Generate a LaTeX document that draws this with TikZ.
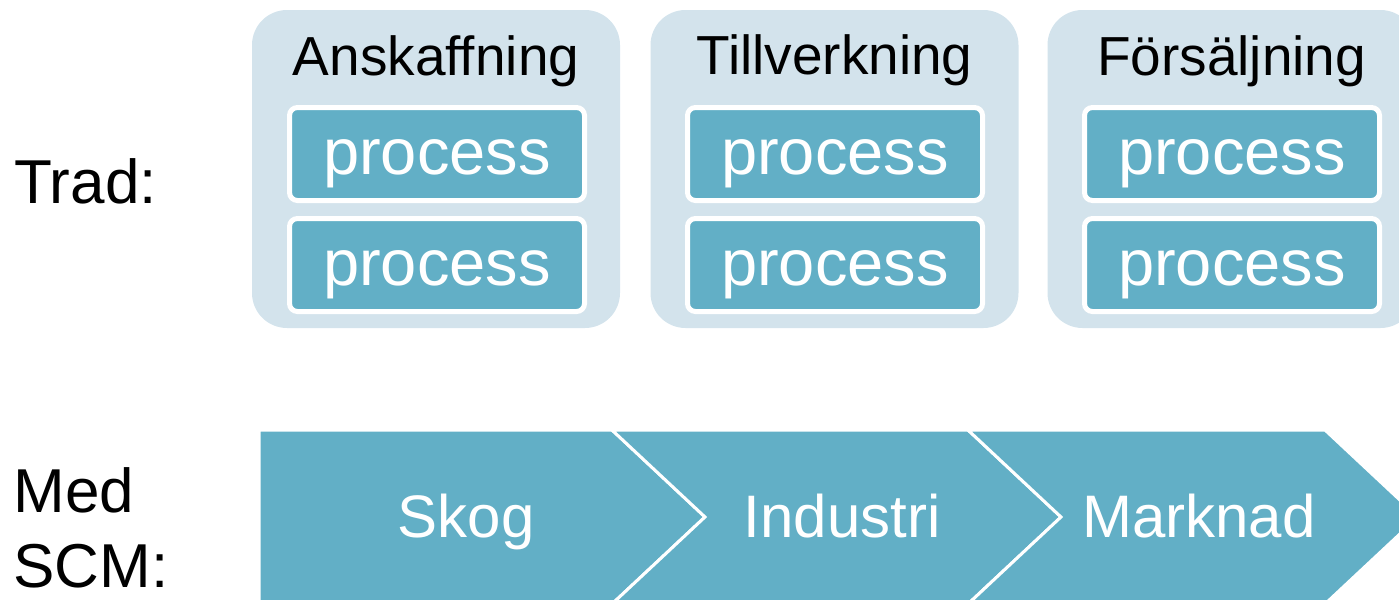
\documentclass[tikz,border=0pt]{standalone}
\usepackage{fontspec}
\setmainfont{Liberation Sans}
\usetikzlibrary{positioning}
\definecolor{StageBg}{HTML}{D3E3EC}
\definecolor{ProcBlue}{HTML}{62AFC6}

\begin{document}
\begin{tikzpicture}[x=0.5pt, y=-0.5pt]
	\tikzstyle{Stage}	= [rectangle, rounded corners=17.5pt, fill=StageBg, minimum width=184pt, minimum height=159pt, inner sep=0pt]
	\tikzstyle{Title}	= [anchor=base, inner sep=0pt, font=\fontsize{27.5pt}{33pt}\selectfont]
	\tikzstyle{Process}	= [rectangle, rounded corners=4pt, fill=ProcBlue, draw=white, line width=2.5pt, minimum width=147.5pt, minimum height=46.5pt, inner sep=0pt, text=white, text height=20pt, text depth=0pt, font=\fontsize{32.5pt}{39pt}\selectfont]
	\tikzstyle{Label}	= [inner sep=0pt, font=\fontsize{31pt}{37.5pt}\selectfont]
	\tikzstyle{Chevron}	= [fill=ProcBlue, draw=white, line width=1.5pt]
	\tikzstyle{StepText}	= [anchor=base, text=white, inner sep=0pt, font=\fontsize{30pt}{36pt}\selectfont]

	\path[use as bounding box] (0,0) rectangle (1399,600);
	\clip (0,0) rectangle (1399,600);

	% traditional view
	\node (trad) at (14,203) [Label, anchor=base west] {Trad:};

	\node (s1) at (436,169) [Stage] {};
	\node (s2) at (834.5,169) [Stage] {};
	\node (s3) at (1231.5,169) [Stage] {};

	\node (t1) at (436,75) [Title] {Anskaffning};
	\node (t2) at (834.5,74) [Title] {Tillverkning};
	\node (t3) at (1231.5,75) [Title] {Försäljning};

	\node (p11) at (437,154) [Process] {process};
	\node (p12) at (437,265) [Process] {process};
	\node (p21) at (835,154) [Process] {process};
	\node (p22) at (835,265) [Process] {process};
	\node (p31) at (1232,154) [Process] {process};
	\node (p32) at (1232,265) [Process] {process};

	% supply chain view
	\node (scm) at (13,587) [Label, anchor=base west, align=left] {Med\\SCM:};

	\filldraw[Chevron] (259,430) -- (612,430) -- (705,517) -- (612,604) -- (259,604) -- cycle;
	\filldraw[Chevron] (612,430) -- (968,430) -- (1061,517) -- (968,604) -- (612,604) -- (705,517) -- cycle;
	\filldraw[Chevron] (968,430) -- (1325,430) -- (1418,517) -- (1325,604) -- (968,604) -- (1061,517) -- cycle;

	\node (skog) at (466,537) [StepText] {Skog};
	\node (ind) at (842,537) [StepText] {Industri};
	\node (mark) at (1199,537) [StepText] {Marknad};
\end{tikzpicture}
\end{document}
